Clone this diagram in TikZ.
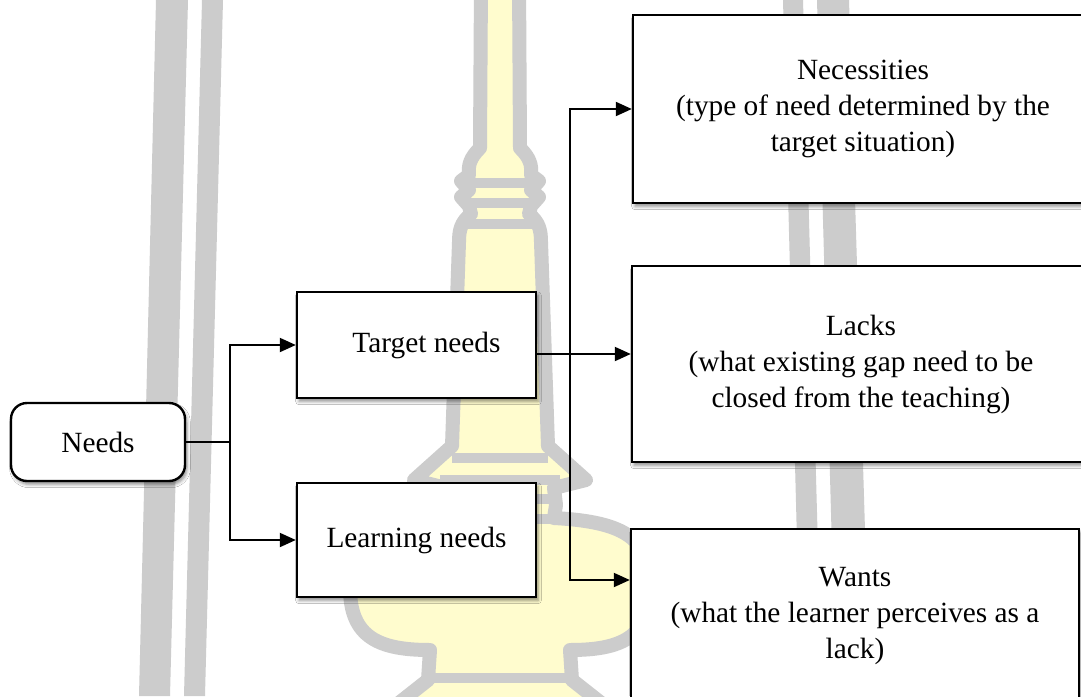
\documentclass[tikz,border=0pt]{standalone}
\usepackage{fontspec}
\setmainfont{Liberation Serif}
\usetikzlibrary{arrows.meta,shadows.blur}
\definecolor{wmgrey}{RGB}{204,204,204}
\definecolor{wmyellow}{RGB}{255,252,206}
\tikzset{
  box/.style={draw=black, line width=1.8pt, fill=white, rectangle, align=center,
    font=\fontsize{22}{27}\selectfont, inner sep=0pt,
    blur shadow={shadow xshift=1.5pt, shadow yshift=-2.5pt, shadow blur radius=2.5pt, shadow opacity=45}},
  conn/.style={line width=1.5pt, draw=black},
  arr/.style={conn, -{Triangle[length=12pt,width=10.5pt]}},
  arrboth/.style={conn, {Triangle[length=12pt,width=10.5pt]}-{Triangle[length=12pt,width=10.5pt]}},
  wmbar/.style={fill=wmgrey, draw=none},
  tower/.style={draw=wmgrey, line width=10.5pt, fill=wmyellow, line join=round},
  band/.style={draw=wmgrey, line width=8pt},
}
\begin{document}
\begin{tikzpicture}[x=0.75pt,y=-0.75pt]
\clip (0,0) rectangle (1081,696);
\fill[white] (0,0) rectangle (1081,696);
% watermark
\fill[wmbar] (156,0) -- (188,0) -- (170,696) -- (139,696) -- cycle;
\fill[wmbar] (202,0) -- (223,0) -- (205,696) -- (184,696) -- cycle;
\fill[wmbar] (783,0) -- (803,0) -- (822,696) -- (801,696) -- cycle;
\fill[wmbar] (817,0) -- (849,0) -- (870,696) -- (836,696) -- cycle;
\path[tower] (481,-20) -- (480,148) .. controls (470,158) and (468,165) .. (469,175)
  -- (461,181) -- (469,190) -- (461,197) -- (469,206) -- (471,214)
  .. controls (461,222) and (459,230) .. (459,242) -- (452,446) -- (414,480) -- (446,488)
  -- (444,505) -- (446,518) .. controls (372,522) and (350,540) .. (350,588)
  .. controls (350,638) and (380,650) .. (430,650) -- (428,680) -- (390,710)
  -- (610,710) -- (572,680) -- (570,650) .. controls (620,650) and (650,638) .. (650,588)
  .. controls (650,540) and (628,522) .. (554,518) -- (556,505) -- (554,488) -- (586,480)
  -- (548,446) -- (541,242) .. controls (541,230) and (539,222) .. (529,214)
  -- (531,206) -- (539,197) -- (531,190) -- (539,181) -- (531,175)
  .. controls (532,165) and (530,158) .. (520,148) -- (519,-20) -- cycle;
\draw[band] (464,183) -- (536,183);
\draw[band] (464,203) -- (536,203);
\draw[band] (462,224) -- (538,224);
\draw[band] (452,458) -- (548,458);
\draw[band] (440,480) -- (560,480);
\draw[band] (444,499) -- (556,499);
\draw[band] (440,519) -- (560,519);
\draw[band] (428,678) -- (572,678);
% boxes
\node[box, rounded corners=12pt, minimum width=130.5pt, minimum height=58.5pt] (needs) at (98,442) {Needs};
\node[box, minimum width=179.25pt, minimum height=79.5pt] (target) at (416.5,345) {\hspace*{15pt}Target needs};
\node[box, minimum width=179.25pt, minimum height=85.5pt] (learning) at (416.5,540) {Learning needs};
\node[box, minimum width=345pt, minimum height=141pt] (nec) at (863,109) {Necessities\\(type of need determined by the\\target situation)};
\node[box, minimum width=343.5pt, minimum height=147pt] (lacks) at (861,364) {Lacks\\(what existing gap need to be\\closed from the teaching)};
\node[box, minimum width=336pt, minimum height=130.5pt] (wants) at (855,616) {Wants\\(what the learner perceives as a\\lack)};
% connectors
\coordinate (jn) at ([xshift=33pt]needs.east);
\draw[conn] (needs.east) -- (jn);
\draw[arr] (jn) |- (target.west);
\draw[arr] (jn) |- (learning.west);
\draw[arr] ([yshift=-6.75pt]target.east) coordinate (t1) -- (t1 -| lacks.west);
\coordinate (bx) at (570,0);
\coordinate (wy) at (0,580);
\draw[arrboth] (nec.west) -- (nec.west -| bx) -- (bx |- wy) -- (wants.west |- wy);
\end{tikzpicture}
\end{document}
